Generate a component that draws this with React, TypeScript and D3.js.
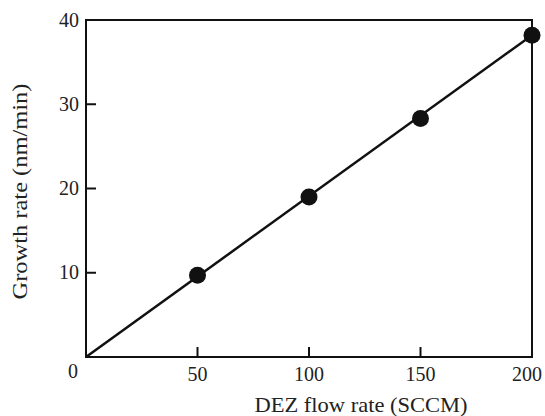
import React from "react";
import * as d3 from "d3";

const flowRates = [50, 100, 150, 200];
const growthRates = [9.7, 19.0, 28.3, 38.2];
const fitLine = [
  [0, 0],
  [200, 38.2],
];
const xTicks = [0, 50, 100, 150, 200];
const yTicks = [10, 20, 30, 40];
const xTitle = "DEZ flow rate (SCCM)";
const yTitle = "Growth rate (nm/min)";

export default function App() {
  const W = 545, H = 416;
  const left = 86, right = 532, top = 20, bottom = 357;
  const x = d3.scaleLinear().domain([0, 200]).range([left, right]);
  const y = d3.scaleLinear().domain([0, 40]).range([bottom, top]);
  const line = d3.line<number[]>().x((d) => x(d[0])).y((d) => y(d[1]));
  const font = "'Liberation Serif', 'DejaVu Serif', serif";
  const digitW = 10;
  const labelX = (t: number) => (t === 0 ? 73 : t === 200 ? x(t) - 5 : x(t));
  return (
    <svg width={W} height={H} style={{ position: "absolute", left: 0, top: 0, background: "#fff" }}>
      <rect x={left} y={top} width={right - left} height={bottom - top} fill="none" stroke="#111" strokeWidth={2} />
      {xTicks.slice(1, 4).map((t) => (
        <line key={"xt" + t} x1={x(t)} x2={x(t)} y1={bottom} y2={bottom - 10} stroke="#111" strokeWidth={2} />
      ))}
      {yTicks.slice(0, 3).map((t) => (
        <line key={"yt" + t} x1={left} x2={left + 10} y1={y(t)} y2={y(t)} stroke="#111" strokeWidth={2} />
      ))}
      {xTicks.map((t) => (
        <text
          key={"xl" + t}
          x={labelX(t)}
          y={t === 0 ? 378 : 381}
          textAnchor="middle"
          fontFamily={font}
          fontSize={22}
          fill="#222"
          textLength={String(t).length * digitW}
          lengthAdjust="spacingAndGlyphs"
        >
          {t}
        </text>
      ))}
      {yTicks.map((t) => (
        <text
          key={"yl" + t}
          x={79}
          y={y(t) + 6.5}
          textAnchor="end"
          fontFamily={font}
          fontSize={22}
          fill="#222"
          textLength={String(t).length * digitW}
          lengthAdjust="spacingAndGlyphs"
        >
          {t}
        </text>
      ))}
      <path d={line(fitLine as number[][]) || ""} fill="none" stroke="#111" strokeWidth={2.5} />
      {flowRates.map((f, i) => (
        <circle key={"p" + f} cx={x(f)} cy={y(growthRates[i])} r={8.5} fill="#111" />
      ))}
      <text
        x={361}
        y={412}
        textAnchor="middle"
        fontFamily={font}
        fontSize={21}
        fill="#222"
        textLength={213}
        lengthAdjust="spacingAndGlyphs"
      >
        {xTitle}
      </text>
      <text
        transform={`translate(27, 191.5) rotate(-90)`}
        textAnchor="middle"
        fontFamily={font}
        fontSize={21}
        fill="#222"
        textLength={216}
        lengthAdjust="spacingAndGlyphs"
      >
        {yTitle}
      </text>
    </svg>
  );
}
